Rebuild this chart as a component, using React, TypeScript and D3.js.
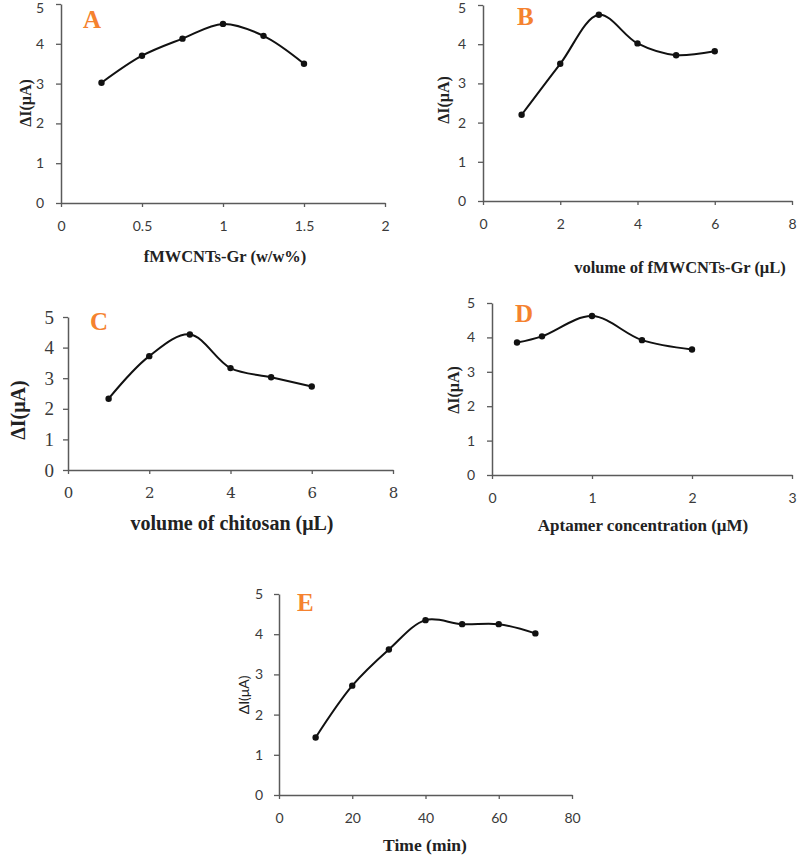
import React, { useEffect, useRef } from 'react'
import * as d3 from 'd3'

// values
const fmwcntsRatio = [0.25, 0.5, 0.75, 1, 1.25, 1.5]
const currentA = [3.02, 3.7, 4.13, 4.5, 4.2, 3.5]

const fmwcntsVolume = [1, 2, 3, 4, 5, 6]
const currentB = [2.2, 3.5, 4.75, 4.02, 3.72, 3.82]

const chitosanVolume = [1, 2, 3, 4, 5, 6]
const currentC = [2.33, 3.72, 4.43, 3.33, 3.03, 2.73]

const aptamerConc = [0.25, 0.5, 1, 1.5, 2]
const currentD = [3.85, 4.03, 4.62, 3.92, 3.65]

const incubationTime = [10, 20, 30, 40, 50, 60, 70]
const currentE = [1.43, 2.72, 3.62, 4.35, 4.25, 4.25, 4.02]

const yTicks = [0, 1, 2, 3, 4, 5]
const xTicksA = [0, 0.5, 1, 1.5, 2]
const xTicksB = [0, 2, 4, 6, 8]
const xTicksC = [0, 2, 4, 6, 8]
const xTicksD = [0, 1, 2, 3]
const xTicksE = [0, 20, 40, 60, 80]

const SANS = 'Lato, "Open Sans", sans-serif'
const SERIF = '"Liberation Serif", "Times New Roman", serif'
const ORANGE = '#f5822f'
const AXIS = '#5a5a5a'

const panels = [
    {
        letter: 'A', xs: fmwcntsRatio, ys: currentA, ticks: xTicksA, xMax: 2,
        box: { x0: 61, x1: 385, top: 4, bottom: 203 },
        tickFont: SANS, tickSize: 14, yTickGap: 17, yTitleFont: SERIF, yTitleSize: 16,
        xTitle: 'fMWCNTs-Gr (w/w%)', xTitleSize: 16.5, xTitlePos: [225, 256], yTitlePos: [25, 103],
        letterPos: [83, 28]
    },
    {
        letter: 'B', xs: fmwcntsVolume, ys: currentB, ticks: xTicksB, xMax: 8,
        box: { x0: 483, x1: 792, top: 5, bottom: 201 },
        tickFont: SANS, tickSize: 14, yTickGap: 17, yTitleFont: SERIF, yTitleSize: 16,
        xTitle: 'volume of fMWCNTs-Gr (μL)', xTitleSize: 16.5, xTitlePos: [680, 267], yTitlePos: [443, 100],
        letterPos: [517, 25]
    },
    {
        letter: 'C', xs: chitosanVolume, ys: currentC, ticks: xTicksC, xMax: 8,
        box: { x0: 68, x1: 393, top: 317, bottom: 470 },
        tickFont: '"DejaVu Serif", serif', tickSize: 15, yTickFont: SERIF, yTickSize: 19, yTickGap: 14,
        yTitleFont: SERIF, yTitleSize: 20,
        xTitle: 'volume of chitosan (μL)', xTitleSize: 20, xTitlePos: [232, 523], yTitlePos: [18, 410],
        letterPos: [90, 330]
    },
    {
        letter: 'D', xs: aptamerConc, ys: currentD, ticks: xTicksD, xMax: 3,
        box: { x0: 492, x1: 792, top: 303, bottom: 475 },
        tickFont: SANS, tickSize: 14, yTickGap: 17, yTitleFont: SERIF, yTitleSize: 16,
        xTitle: 'Aptamer concentration (μM)', xTitleSize: 17, xTitlePos: [643, 525], yTitlePos: [453, 390],
        letterPos: [515, 322]
    },
    {
        letter: 'E', xs: incubationTime, ys: currentE, ticks: xTicksE, xMax: 80,
        box: { x0: 279, x1: 572, top: 594, bottom: 795 },
        tickFont: SANS, tickSize: 14, yTickGap: 16, yTitleFont: SANS, yTitleSize: 14, yTitleWeight: 'normal',
        xTitle: 'Time (min)', xTitleSize: 17.5, xTitlePos: [425, 845], yTitlePos: [243, 695],
        letterPos: [297, 611]
    }
]

const drawPanel = (svg, p) => {
    const g = svg.append('g')
    const x = d3.scaleLinear().domain([0, p.xMax]).range([p.box.x0, p.box.x1])
    const y = d3.scaleLinear().domain([0, 5]).range([p.box.bottom, p.box.top])

    const xAxis = g.append('g')
        .attr('transform', `translate(0,${p.box.bottom})`)
        .call(d3.axisBottom(x).tickValues(p.ticks).tickSize(4).tickSizeOuter(0).tickFormat(d3.format('')))
    const yAxis = g.append('g')
        .attr('transform', `translate(${p.box.x0},0)`)
        .call(d3.axisLeft(y).tickValues(yTicks).tickSize(5).tickSizeOuter(0).tickFormat(d3.format('')))

    ;[xAxis, yAxis].forEach(ax => {
        ax.select('.domain').attr('stroke', AXIS).attr('stroke-width', 1.5)
        ax.selectAll('.tick line').attr('stroke', AXIS).attr('stroke-width', 1.3)
    })
    xAxis.selectAll('.tick text')
        .attr('y', 23)
        .attr('dy', '0.35em')
        .attr('fill', '#3a3a3a')
        .style('font-family', p.tickFont)
        .style('font-size', `${p.tickSize}px`)
    // top label sits at the very edge of the page, keep it inside
    yAxis.selectAll('.tick text')
        .attr('x', -p.yTickGap)
        .attr('y', d => (y(d) < 8 ? 8 - y(d) : 0))
        .attr('fill', '#3a3a3a')
        .style('font-family', p.yTickFont || p.tickFont)
        .style('font-size', `${p.yTickSize || p.tickSize}px`)

    const pts = p.xs.map((v, i) => [x(v), y(p.ys[i])])
    const line = d3.line().curve(d3.curveCatmullRom.alpha(0.5))
    g.append('path')
        .attr('d', line(pts))
        .attr('fill', 'none')
        .attr('stroke', '#111')
        .attr('stroke-width', 2)
    g.selectAll('circle.pt')
        .data(pts)
        .join('circle')
        .attr('class', 'pt')
        .attr('cx', d => d[0])
        .attr('cy', d => d[1])
        .attr('r', 3.2)
        .attr('fill', '#111')

    g.append('text')
        .attr('x', p.letterPos[0])
        .attr('y', p.letterPos[1])
        .attr('fill', ORANGE)
        .style('font-family', SERIF)
        .style('font-weight', 'bold')
        .style('font-size', '25px')
        .text(p.letter)

    g.append('text')
        .attr('x', p.xTitlePos[0])
        .attr('y', p.xTitlePos[1])
        .attr('text-anchor', 'middle')
        .attr('dominant-baseline', 'central')
        .attr('fill', '#222')
        .style('font-family', SERIF)
        .style('font-weight', 'bold')
        .style('font-size', `${p.xTitleSize}px`)
        .text(p.xTitle)

    g.append('text')
        .attr('transform', `translate(${p.yTitlePos[0]},${p.yTitlePos[1]}) rotate(-90)`)
        .attr('text-anchor', 'middle')
        .attr('dominant-baseline', 'central')
        .attr('fill', '#222')
        .style('font-family', p.yTitleFont)
        .style('font-weight', p.yTitleWeight || 'bold')
        .style('font-size', `${p.yTitleSize}px`)
        .text('ΔI(μA)')
}

export default function App() {
    const ref = useRef(null)

    useEffect(() => {
        const svg = d3.select(ref.current)
        svg.selectAll('*').remove()
        panels.forEach(p => drawPanel(svg, p))
    }, [])

    return (
        <div style={{ position: 'absolute', left: 0, top: 0 }}>
            <svg ref={ref} width={798} height={866} style={{ display: 'block', background: '#fff' }} />
        </div>
    )
}
